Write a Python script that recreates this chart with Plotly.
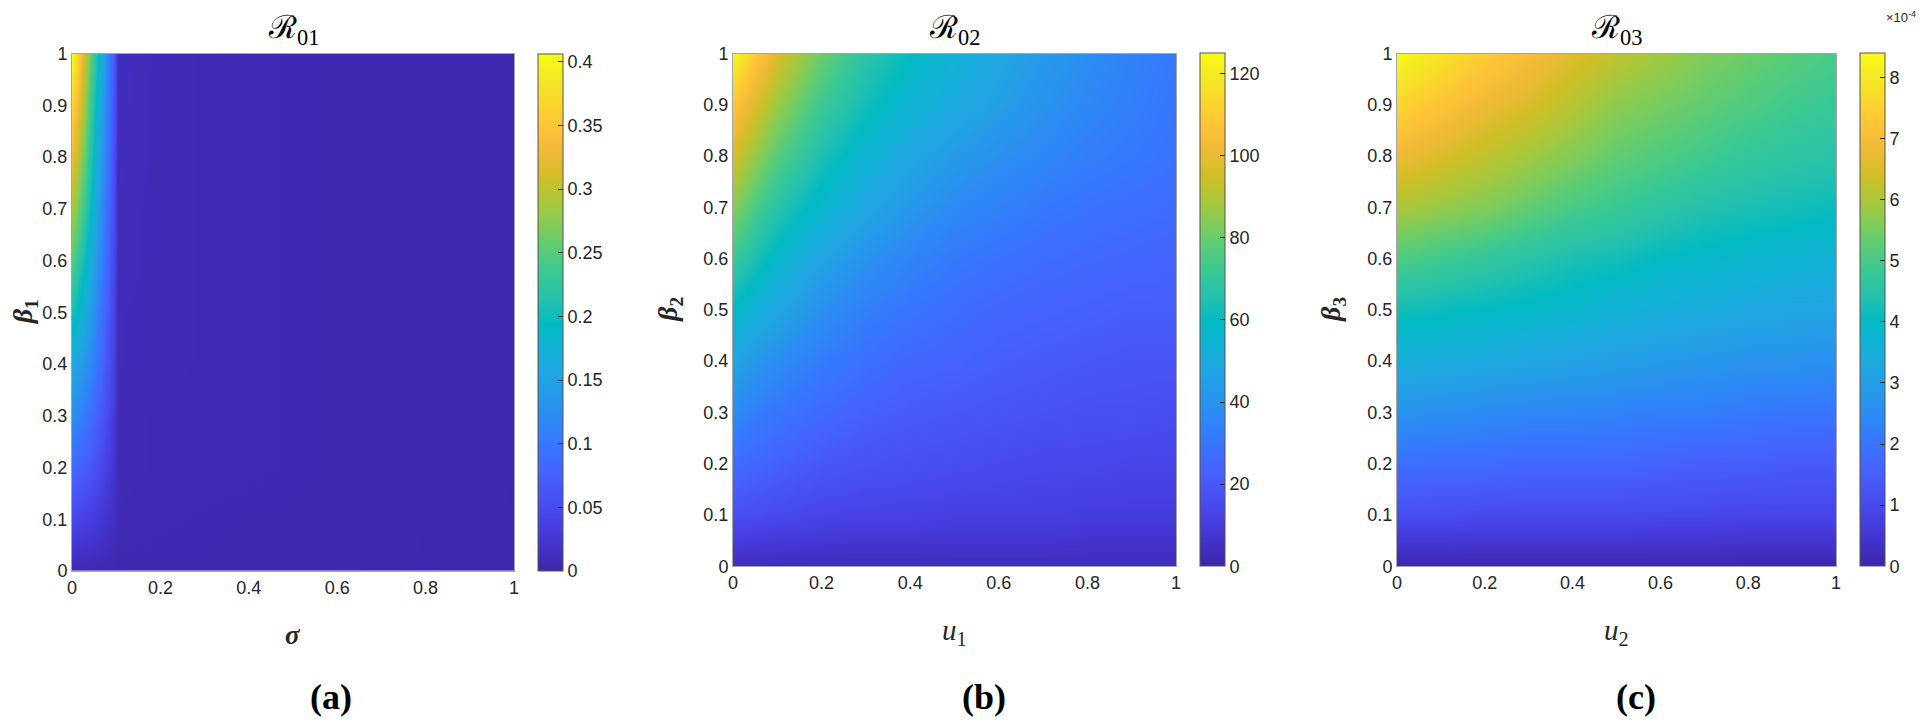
import plotly.graph_objects as go
from plotly.subplots import make_subplots

# ---- data ----
beta_grid = [0.0, 0.1, 0.2, 0.3, 0.4, 0.5, 0.6, 0.7, 0.8, 0.9, 1.0]

# panel (a): R01 over sigma (x) and beta1 (y)
sigma_grid = [0, 0.02, 0.04, 0.06, 0.08, 0.095, 0.105, 0.2, 0.4, 0.6, 0.8, 1.0]
r01 = [
    [0.005, 0.005, 0.005, 0.005, 0.005, 0.005, 0.005, 0.005, 0.005, 0.004, 0.004, 0.004],
    [0.045, 0.040, 0.035, 0.028, 0.020, 0.015, 0.007, 0.006, 0.005, 0.005, 0.004, 0.004],
    [0.085, 0.075, 0.065, 0.050, 0.035, 0.022, 0.008, 0.007, 0.006, 0.005, 0.005, 0.004],
    [0.125, 0.110, 0.090, 0.070, 0.050, 0.030, 0.008, 0.007, 0.006, 0.005, 0.005, 0.004],
    [0.165, 0.145, 0.120, 0.090, 0.060, 0.035, 0.009, 0.008, 0.006, 0.005, 0.005, 0.004],
    [0.205, 0.180, 0.145, 0.105, 0.070, 0.040, 0.009, 0.008, 0.006, 0.005, 0.005, 0.004],
    [0.250, 0.215, 0.170, 0.125, 0.080, 0.045, 0.010, 0.008, 0.006, 0.005, 0.005, 0.004],
    [0.290, 0.250, 0.200, 0.140, 0.090, 0.050, 0.010, 0.008, 0.006, 0.005, 0.005, 0.004],
    [0.330, 0.280, 0.220, 0.155, 0.100, 0.055, 0.011, 0.008, 0.006, 0.005, 0.005, 0.004],
    [0.370, 0.310, 0.240, 0.170, 0.110, 0.060, 0.011, 0.008, 0.006, 0.005, 0.005, 0.004],
    [0.410, 0.340, 0.260, 0.190, 0.120, 0.065, 0.012, 0.008, 0.006, 0.005, 0.005, 0.004],
]

# panel (b): R02 over u1 (x) and beta2 (y)
u1_grid = [0, 0.05, 0.1, 0.2, 0.3, 0.4, 0.5, 0.6, 0.7, 0.8, 0.9, 1.0]
r02 = [
    [3, 3, 3, 3, 3, 3, 3, 3, 3, 3, 3, 3],
    [17, 16, 15, 13, 12, 12, 11, 11, 11, 10, 10, 10],
    [27, 25, 23, 20, 18, 17, 16, 15, 14, 14, 13, 13],
    [37, 33, 30, 26, 23, 21, 20, 19, 18, 17, 17, 16],
    [47, 42, 38, 32, 28, 25, 24, 22, 21, 20, 19, 19],
    [59, 53, 48, 39, 33, 30, 27, 25, 24, 23, 22, 22],
    [72, 64, 57, 47, 40, 35, 31, 29, 27, 26, 25, 24],
    [84, 75, 67, 56, 48, 42, 37, 34, 31, 29, 28, 27],
    [96, 86, 77, 64, 55, 48, 43, 39, 36, 33, 31, 29],
    [108, 97, 87, 72, 62, 55, 50, 45, 40, 36, 33, 30],
    [125, 110, 97, 80, 68, 60, 54, 48, 43, 38, 34, 31],
]

# panel (c): R03 (in units of 1e-4) over u2 (x) and beta3 (y)
u2_grid = [0, 0.1, 0.2, 0.3, 0.4, 0.5, 0.6, 0.7, 0.8, 0.9, 1.0]
r03 = [
    [0.05, 0.05, 0.05, 0.05, 0.05, 0.05, 0.05, 0.05, 0.05, 0.05, 0.05],
    [1.1, 1.1, 1.0, 1.0, 1.0, 1.0, 0.95, 0.95, 0.9, 0.9, 0.9],
    [1.9, 1.8, 1.8, 1.7, 1.7, 1.7, 1.6, 1.5, 1.5, 1.4, 1.4],
    [2.7, 2.6, 2.5, 2.4, 2.4, 2.3, 2.2, 2.2, 2.1, 2.0, 2.0],
    [3.5, 3.4, 3.3, 3.2, 3.1, 3.0, 2.9, 2.8, 2.7, 2.7, 2.6],
    [4.2, 4.1, 4.0, 3.9, 3.8, 3.6, 3.5, 3.4, 3.3, 3.2, 3.2],
    [5.1, 4.9, 4.7, 4.5, 4.3, 4.2, 4.0, 3.9, 3.8, 3.7, 3.6],
    [6.0, 5.8, 5.6, 5.3, 5.0, 4.8, 4.6, 4.4, 4.3, 4.2, 4.1],
    [6.8, 6.5, 6.2, 5.9, 5.6, 5.3, 5.1, 4.9, 4.7, 4.6, 4.5],
    [7.6, 7.2, 6.8, 6.5, 6.1, 5.7, 5.5, 5.3, 5.1, 4.9, 4.8],
    [8.4, 7.9, 7.4, 7.0, 6.6, 6.2, 5.9, 5.6, 5.4, 5.2, 5.0],
]

x_ticks = [0, 0.2, 0.4, 0.6, 0.8, 1]
y_ticks = [0, 0.1, 0.2, 0.3, 0.4, 0.5, 0.6, 0.7, 0.8, 0.9, 1]

# MATLAB parula (R2014b) anchor colours
PARULA = [
    (0.2422, 0.1504, 0.6603), (0.2647, 0.1978, 0.7952), (0.2783, 0.2559, 0.8991),
    (0.2810, 0.3228, 0.9579), (0.2699, 0.3892, 0.9906), (0.2206, 0.4603, 0.9973),
    (0.1786, 0.5289, 0.9682), (0.1540, 0.5902, 0.9218), (0.1248, 0.6459, 0.8883),
    (0.0689, 0.6948, 0.8394), (0.0067, 0.7312, 0.7660), (0.1408, 0.7584, 0.6842),
    (0.2161, 0.7843, 0.5923), (0.3406, 0.8008, 0.4789), (0.5044, 0.7993, 0.3480),
    (0.6720, 0.7793, 0.2227), (0.8203, 0.7498, 0.1535), (0.9393, 0.7288, 0.2100),
    (0.9970, 0.7659, 0.2199), (0.9786, 0.8386, 0.1766), (0.9597, 0.9135, 0.1423),
    (0.9769, 0.9839, 0.0805),
]
parula = [[i / (len(PARULA) - 1), "rgb(%d,%d,%d)" % tuple(round(c * 255) for c in rgb)]
          for i, rgb in enumerate(PARULA)]

TICK_FONT = dict(family="Liberation Sans Narrow, Arial Narrow, Liberation Sans", size=18, color="#262626")
SERIF = "Liberation Serif, DejaVu Serif, serif"

W, H = 1927, 724
TOP = 0.937

# (x grid, z, zmax, colorbar dtick, plot left px, plot right px, y bottom)
panels = [
    (sigma_grid, r01, 0.406, 0.05, 64, 506, 0.2223),
    (u1_grid, r02, 125, 20, 725, 1168, 0.229),
    (u2_grid, r03, 8.4, 1, 1389, 1828, 0.229),
]

titles = ["ℛ<sub>01</sub>", "ℛ<sub>02</sub>", "ℛ<sub>03</sub>"]
xlabels = ["<b><i>σ</i></b>", "<i>u</i><sub>1</sub>", "<i>u</i><sub>2</sub>"]
xlabel_y = [627, 624, 624]
ylabels = ["<b><i>β</i><sub>1</sub></b>", "<b><i>β</i><sub>2</sub></b>", "<b><i>β</i><sub>3</sub></b>"]
ylabel_x = [16, 662, 1325]
panel_tags = ["<b>(a)</b>", "<b>(b)</b>", "<b>(c)</b>"]
tag_x = [323, 976, 1628]

fig = make_subplots(rows=1, cols=3)

for i, (xg, z, zmax, dt, x0, x1, ybot) in enumerate(panels):
    fig.add_trace(go.Heatmap(
        x=xg, y=beta_grid, z=z,
        zmin=0, zmax=zmax, zsmooth="best",
        colorscale=parula,
        colorbar=dict(
            x=(x1 + 24) / W, xanchor="left", xpad=0, ypad=0,
            y=ybot, yanchor="bottom", len=TOP - ybot, lenmode="fraction", thickness=25,
            tick0=0, dtick=dt, ticks="inside", ticklen=5, tickcolor="#262626",
            tickfont=TICK_FONT, outlinewidth=1, outlinecolor="#555555",
        ),
        hoverinfo="skip",
    ), row=1, col=i + 1)
    fig.update_xaxes(domain=[x0 / W, x1 / W], range=[0, 1], tickvals=x_ticks,
                     ticktext=[f"{v:g}" for v in x_ticks], tickfont=TICK_FONT,
                     showgrid=False, zeroline=False, showline=True, mirror=True,
                     linecolor="#a6a6a6", linewidth=1, ticks="", automargin=False,
                     row=1, col=i + 1)
    fig.update_yaxes(domain=[ybot, TOP], range=[0, 1], tickvals=y_ticks,
                     ticktext=[f"{v:g}" for v in y_ticks], tickfont=TICK_FONT,
                     showgrid=False, zeroline=False, showline=True, mirror=True,
                     linecolor="#a6a6a6", linewidth=1, ticks="", automargin=False,
                     row=1, col=i + 1)

ann = []
for i, (xg, z, zmax, dt, x0, x1, ybot) in enumerate(panels):
    cx = (x0 + x1) / 2 / W
    ann.append(dict(text=titles[i], x=cx, y=1 - 22 / H, xref="paper", yref="paper",
                    xanchor="center", yanchor="middle", showarrow=False,
                    font=dict(family=SERIF, size=32, color="#000")))
    ann.append(dict(text=xlabels[i], x=cx, y=1 - xlabel_y[i] / H, xref="paper", yref="paper",
                    xanchor="center", yanchor="middle", showarrow=False,
                    font=dict(family=SERIF, size=29 if i else 27, color="#262626")))
    ann.append(dict(text=ylabels[i], x=ylabel_x[i] / W, y=(ybot + TOP) / 2, xref="paper",
                    yref="paper", xanchor="center", yanchor="middle", showarrow=False,
                    textangle=-90, borderpad=0,
                    font=dict(family=SERIF, size=28, color="#262626")))
    ann.append(dict(text=panel_tags[i], x=tag_x[i] / W, y=1 - 689 / H, xref="paper", yref="paper",
                    xanchor="center", yanchor="middle", showarrow=False,
                    font=dict(family=SERIF, size=36, color="#000")))
ann.append(dict(text="×10<sup>-4</sup>", x=1909 / W, y=1, xref="paper", yref="paper",
                xanchor="right", yanchor="top", showarrow=False, borderpad=0,
                font=dict(family="Liberation Sans, sans-serif", size=13, color="#262626")))

fig.update_layout(
    width=W, height=H,
    margin=dict(l=0, r=0, t=0, b=0),
    paper_bgcolor="white", plot_bgcolor="white",
    annotations=ann,
    showlegend=False,
)

fig.write_html("out.html")
